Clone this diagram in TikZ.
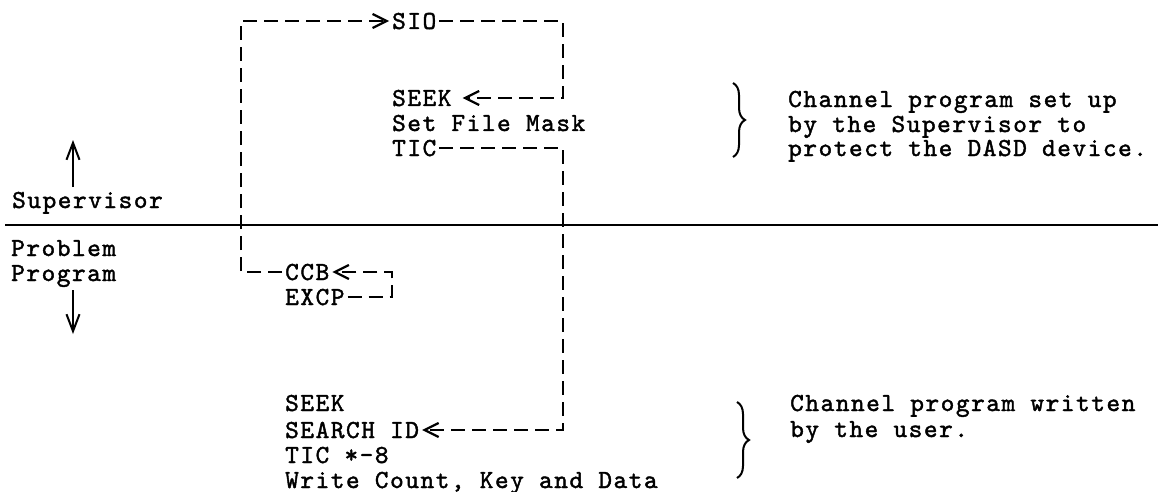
\documentclass[tikz,border=0pt]{standalone}
\usepackage{fontspec}
\setmonofont{lmmono10-regular}[Extension=.otf, FakeBold=1.6, LetterSpace=6]
\usetikzlibrary{arrows.meta,decorations.pathreplacing}
\begin{document}
\begin{tikzpicture}[x=1pt,y=-1pt,
  txt/.style={font=\ttfamily\fontsize{26}{26}\selectfont, anchor=west, inner xsep=3pt, inner ysep=0pt, text height=16pt, text depth=0pt},
  dcon/.style={line width=2.2pt, dash pattern=on 14pt off 7pt},
  dtip/.style={-{Straight Barb[length=14pt,width=14pt]}},
  solidline/.style={line width=2pt},
  bigtip/.style={-{Straight Barb[length=17pt,width=13pt]}},
  bracestyle/.style={line width=2pt, decorate, decoration={brace, amplitude=12pt}}]
\useasboundingbox (0,0) rectangle (1158,492);

% left labels
\node[txt] (sup)  at (9,200) {Supervisor};
\node[txt] (prob) at (8,248) {Problem};
\node[txt] (prog) at (8,273) {Program};

% supervisor channel program
\node[txt] (sio)   at (389,21)  {SIO};
\node[txt] (seekA) at (389,98)  {SEEK};
\node[txt] (mask)  at (389,123) {Set File Mask};
\node[txt] (ticA)  at (389,148) {TIC};

% problem program
\node[txt] (ccb)  at (282,272) {CCB};
\node[txt] (excp) at (282,297) {EXCP};

% user channel program
\node[txt] (seekB)  at (282,403) {SEEK};
\node[txt] (search) at (282,430) {SEARCH ID};
\node[txt] (ticB)   at (282,455) {TIC *-8};
\node[txt] (write)  at (282,480) {Write Count, Key and Data};

% right notes
\node[txt] (ch1) at (785,99)  {Channel program set up};
\node[txt] (ch2) at (785,124) {by the Supervisor to};
\node[txt] (ch3) at (785,148) {protect the DASD device.};
\node[txt] (us1) at (787,403) {Channel program written};
\node[txt] (us2) at (787,429) {by the user.};

% corners
\coordinate (cTL) at (241,21);
\coordinate (cBL) at (241,272);
\coordinate (cTR) at (563,21);
\coordinate (cR2) at (563,98);
\coordinate (cR3) at (563,148);
\coordinate (cR4) at (563,430);
\coordinate (cC1) at (392,272);
\coordinate (cC2) at (392,297);

% divider
\coordinate (dL) at (5,225);
\coordinate (dR) at (1158,225);
\draw[solidline] (dL) -- (dR);

% up / down arrows
\coordinate (upB) at (73,187);
\coordinate (upT) at (73,140);
\coordinate (dnT) at (73,290);
\coordinate (dnB) at (73,334);
\draw[solidline,bigtip] (upB) -- (upT);
\draw[solidline,bigtip] (dnT) -- (dnB);

% dashed connectors
\draw[dcon,dtip] (excp.east) -- (cC2) -- (cC1) -- (ccb.east);
\draw[dcon,dtip] (ccb.west) -- (cBL) -- (cTL) -- (sio.west);
\draw[dcon,dtip,shorten >=8pt] (sio.east) -- (cTR) -- (cR2) -- (seekA.east);
\draw[dcon,dtip] (ticA.east) -- (cR3) -- (cR4) -- (search.east);

% braces
\coordinate (b1t) at (733,83);
\coordinate (b1b) at (733,157);
\coordinate (b2t) at (737,402);
\coordinate (b2b) at (737,478);
\draw[bracestyle] (b1t) -- (b1b);
\draw[bracestyle] (b2t) -- (b2b);
\end{tikzpicture}
\end{document}
